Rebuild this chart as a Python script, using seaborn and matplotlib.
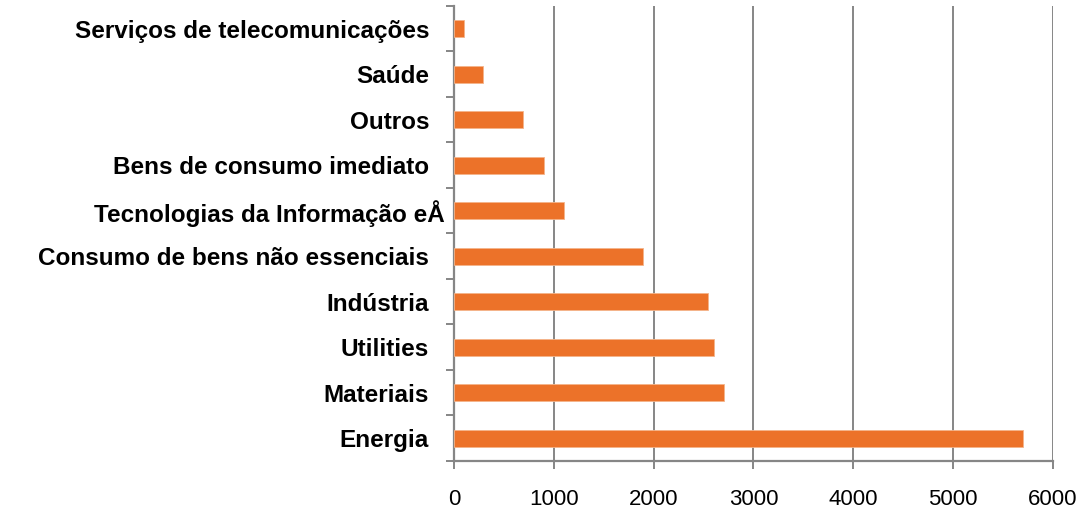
import matplotlib
matplotlib.use("Agg")
import matplotlib.pyplot as plt
import matplotlib.transforms as mtransforms
import numpy as np
import pandas as pd
import seaborn as sns

# Sectors, listed top to bottom, and their values
sectors = [
    "Serviços de telecomunicações",
    "Saúde",
    "Outros",
    "Bens de consumo imediato",
    "Tecnologias da Informação eÅ",
    "Consumo de bens não essenciais",
    "Indústria",
    "Utilities",
    "Materiais",
    "Energia",
]
values = [100, 290, 690, 900, 1100, 1890, 2540, 2600, 2700, 5700]
x_ticks = [0, 1000, 2000, 3000, 4000, 5000, 6000]

df = pd.DataFrame({"sector": sectors, "value": values})

sns.set_theme(style="white")
plt.rcParams["font.family"] = ["Liberation Sans", "DejaVu Sans"]

grey = "#868686"
orange = "#EC7229"

fig = plt.figure(figsize=(10.88, 5.21), dpi=100)
ax = fig.add_axes([0.4173, 0.1152, 0.9678 - 0.4173, 0.9885 - 0.1152])

sns.barplot(data=df, x="value", y="sector", order=sectors, orient="h",
            color=orange, saturation=1, width=0.38, ax=ax, zorder=3,
            edgecolor="#F4B48A", linewidth=0.6)

ax.set_xlim(0, 6000)
ax.set_ylim(len(sectors) - 0.5, -0.5)
ax.set_xticks(x_ticks)
ax.set_xticklabels([str(t) for t in x_ticks], fontsize=16)
ax.set_xlabel("")
ax.set_ylabel("")

# Vertical gridlines
ax.grid(axis="x", color=grey, linewidth=1.4, zorder=0)
ax.grid(axis="y", visible=False)

# Category labels at centres, tick marks at category boundaries
ax.set_yticks(np.arange(len(sectors)))
ax.set_yticklabels(sectors, fontsize=17.5, fontweight="bold", color="black")
ax.set_yticks(np.arange(len(sectors) + 1) - 0.5, minor=True)
ax.tick_params(axis="y", which="major", length=0, pad=18)
ax.tick_params(axis="y", which="minor", length=6, width=1.4, color=grey, direction="out", left=True)
ax.tick_params(axis="x", which="major", length=6, width=1.4, color=grey, direction="out",
               bottom=True, pad=14, labelcolor="black")

for side in ["top", "right"]:
    ax.spines[side].set_visible(False)
for side in ["left", "bottom"]:
    ax.spines[side].set_color(grey)
    ax.spines[side].set_linewidth(1.6)

# The long truncated label sits closer to the axis
for lbl in ax.get_yticklabels():
    if lbl.get_text().startswith("Tecnologias"):
        lbl.set_transform(lbl.get_transform() +
                          mtransforms.ScaledTranslation(16 / 100, 0, fig.dpi_scale_trans))

fig.savefig("out.png", dpi=100)
